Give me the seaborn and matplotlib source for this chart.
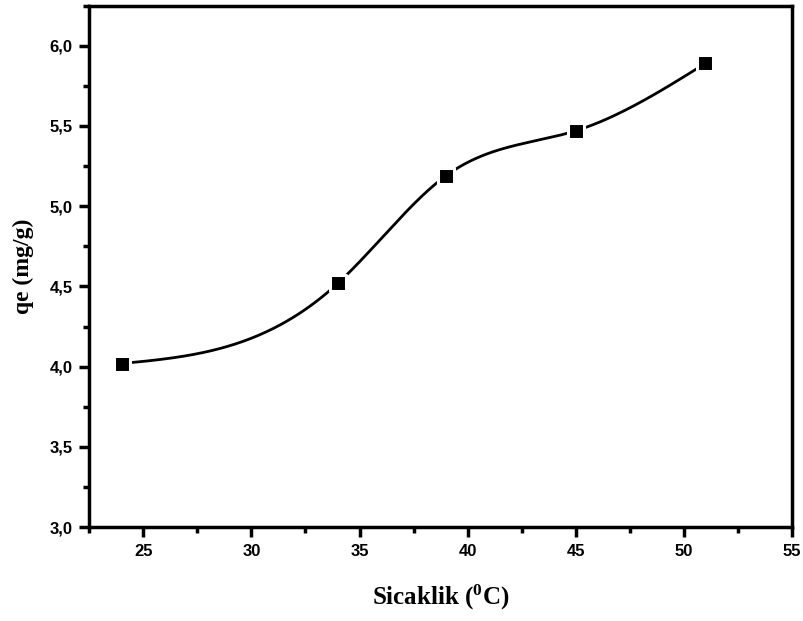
import numpy as np
import pandas as pd
import matplotlib
matplotlib.use("Agg")
import matplotlib.pyplot as plt
import seaborn as sns
from matplotlib.ticker import MultipleLocator, FuncFormatter

# data
sicaklik = [24, 34, 39, 45, 51]
qe = [4.02, 4.52, 5.19, 5.47, 5.89]


def natural_spline(x, y, n=300):
    """
    Natural cubic spline through the points (smooth line like the original)
    """
    x = np.asarray(x, float)
    y = np.asarray(y, float)
    k = len(x)
    h = np.diff(x)
    A = np.zeros((k, k))
    b = np.zeros(k)
    A[0, 0] = A[-1, -1] = 1
    for i in range(1, k - 1):
        A[i, i - 1] = h[i - 1]
        A[i, i] = 2 * (h[i - 1] + h[i])
        A[i, i + 1] = h[i]
        b[i] = 6 * ((y[i + 1] - y[i]) / h[i] - (y[i] - y[i - 1]) / h[i - 1])
    M = np.linalg.solve(A, b)
    xs = np.linspace(x[0], x[-1], n)
    idx = np.clip(np.searchsorted(x, xs) - 1, 0, k - 2)
    x0, x1 = x[idx], x[idx + 1]
    hh = x1 - x0
    ys = (M[idx] * (x1 - xs) ** 3 / (6 * hh) + M[idx + 1] * (xs - x0) ** 3 / (6 * hh)
          + (y[idx] / hh - M[idx] * hh / 6) * (x1 - xs)
          + (y[idx + 1] / hh - M[idx + 1] * hh / 6) * (xs - x0))
    return xs, ys


sns.set_theme(style="ticks")
plt.rcParams['font.family'] = ['Liberation Sans', 'DejaVu Sans']
plt.rcParams['mathtext.fontset'] = 'custom'
plt.rcParams['mathtext.rm'] = 'Liberation Serif:bold'
plt.rcParams['mathtext.bf'] = 'Liberation Serif:bold'

df = pd.DataFrame({"Sicaklik": sicaklik, "qe": qe})
xs, ys = natural_spline(sicaklik, qe)
curve = pd.DataFrame({"Sicaklik": xs, "qe": ys})

fig = plt.figure(figsize=(8.04, 6.21), dpi=100)
ax = fig.add_axes([0.111, 0.151, 0.874, 0.840])

sns.lineplot(data=curve, x="Sicaklik", y="qe", color="black", linewidth=2, ax=ax, zorder=2)
sns.scatterplot(data=df, x="Sicaklik", y="qe", marker="s", s=120, color="black",
                edgecolor="white", linewidth=2.2, ax=ax, zorder=3)

ax.set_xlim(22.5, 55)
ax.set_ylim(3.0, 6.25)
ax.xaxis.set_major_locator(MultipleLocator(5))
ax.xaxis.set_minor_locator(MultipleLocator(2.5))
ax.yaxis.set_major_locator(MultipleLocator(0.5))
ax.yaxis.set_minor_locator(MultipleLocator(0.25))
ax.yaxis.set_major_formatter(FuncFormatter(lambda v, p: f"{v:.1f}".replace(".", ",")))

for s in ax.spines.values():
    s.set_visible(True)
    s.set_linewidth(2.5)
    s.set_color("black")
ax.tick_params(which="major", direction="out", length=7, width=2.5, labelsize=12,
               pad=5, color="black", labelcolor="black")
ax.tick_params(which="minor", direction="out", length=4, width=2.5, color="black")
for lab in ax.get_xticklabels() + ax.get_yticklabels():
    lab.set_fontweight("bold")

ax.set_xlabel(r"Sicaklik ($\mathbf{^{0}}$C)", fontsize=18, fontweight="bold",
              family="Liberation Serif", labelpad=17, color="black")
ax.set_ylabel("qe (mg/g)", fontsize=17, fontweight="bold",
              family="Liberation Serif", labelpad=11, color="black")

fig.savefig("out.png", dpi=100)
